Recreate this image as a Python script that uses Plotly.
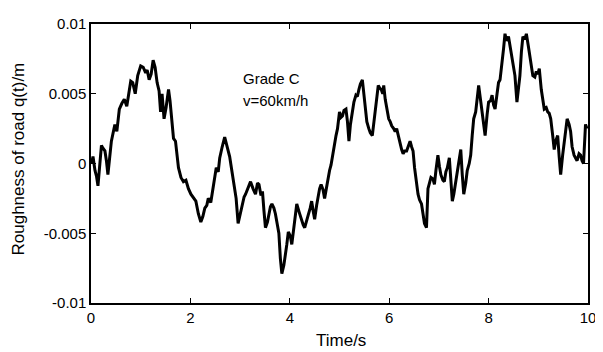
import plotly.graph_objects as go

# Main trace (time in s, roughness in m)
time_s = [0.01, 0.08, 0.14, 0.21, 0.28, 0.34, 0.41, 0.48, 0.57, 0.67, 0.77, 0.84, 0.94, 1.00,
          1.10, 1.17, 1.25, 1.33, 1.40, 1.43, 1.47, 1.56, 1.63, 1.70, 1.76, 1.86, 1.96, 2.06,
          2.16, 2.21, 2.29, 2.36, 2.46, 2.52, 2.59, 2.69, 2.79, 2.85, 2.92, 2.96, 3.05, 3.11,
          3.21, 3.31, 3.38, 3.45, 3.51, 3.58, 3.64, 3.71, 3.78, 3.84, 3.91, 3.97, 4.04, 4.11,
          4.14, 4.24, 4.30, 4.37, 4.44, 4.50, 4.57, 4.63, 4.70, 4.77, 4.83, 4.90, 4.96, 5.00,
          5.06, 5.13, 5.19, 5.26, 5.33, 5.39, 5.46, 5.52, 5.59, 5.66, 5.72, 5.78, 5.84, 5.89,
          5.95, 6.02, 6.09, 6.15, 6.22, 6.28, 6.35, 6.42, 6.48, 6.51, 6.58, 6.65, 6.71, 6.75,
          6.78, 6.84, 6.91, 6.98, 7.04, 7.11, 7.17, 7.21, 7.27, 7.34, 7.41, 7.44, 7.50, 7.57,
          7.64, 7.70, 7.74, 7.80, 7.87, 7.93, 8.00, 8.07, 8.13, 8.20, 8.26, 8.33, 8.40, 8.46,
          8.53, 8.57, 8.63, 8.69, 8.76, 8.83, 8.89, 8.96, 9.02, 9.06, 9.12, 9.19, 9.25, 9.32,
          9.39, 9.45, 9.52, 9.58, 9.65, 9.72, 9.78, 9.85, 9.91, 9.95, 9.98]

roughness_m = [0.0, -0.0005, -0.0016, 0.0013, 0.0009, -0.0008, 0.0016, 0.0028, 0.0039, 0.0046,
               0.0053, 0.0058, 0.0063, 0.0070, 0.0065, 0.0060, 0.0074, 0.0058, 0.0037, 0.0050,
               0.0032, 0.0053, 0.0030, 0.0016, -0.0003, -0.0013, -0.0018, -0.0025, -0.0036, -0.0042,
               -0.0032, -0.0025, -0.0018, -0.0003, 0.0004, 0.0019, 0.0005, -0.0009, -0.0025, -0.0043,
               -0.0029, -0.0022, -0.0013, -0.0022, -0.0015, -0.0020, -0.0046, -0.0036, -0.0029, -0.0036,
               -0.0050, -0.0079, -0.0067, -0.0049, -0.0058, -0.0037,
               -0.0029, -0.0041, -0.0046, -0.0037, -0.0027, -0.0040, -0.0022, -0.0015, -0.0025, -0.0010,
               -0.0001, 0.0016, 0.0025, 0.0037, 0.0034, 0.0039, 0.0016, 0.0037, 0.0049, 0.0053,
               0.0060, 0.0039, 0.0025, 0.0020, 0.0039, 0.0056, 0.0053, 0.0056, 0.0039, 0.0030,
               0.0025, 0.0025, 0.0013, 0.0007, 0.0009, 0.0016, 0.0009, -0.0003, -0.0022, -0.0029,
               -0.0043, -0.0046, -0.0018, -0.0010, -0.0015, 0.0006, -0.0008, -0.0013, -0.0003, 0.0004,
               -0.0027, -0.0013, 0.0006, 0.0010, -0.0022, -0.0005, 0.0006, 0.0032, 0.0037, 0.0056,
               0.0037, 0.0020, 0.0044, 0.0049, 0.0039, 0.0058, 0.0068, 0.0093, 0.0091, 0.0077,
               0.0063, 0.0044, 0.0063, 0.0091, 0.0093, 0.0077, 0.0063, 0.0066, 0.0068, 0.0053,
               0.0039, 0.0037, 0.0032, 0.0010, 0.0020, -0.0008, 0.0016, 0.0032, 0.0023, 0.0006,
               0.0002, 0.0006, 0.0000, 0.0028, 0.0025]

# Extra in-between readings (fine texture of the trace)
detail_time = [0.04, 0.11, 0.24, 0.31, 0.52, 0.62, 0.72, 0.80, 0.89, 0.97, 1.05, 1.13, 1.21, 1.29,
               1.37, 1.51, 1.59, 1.66, 1.73, 1.81, 1.91, 2.01, 2.11, 2.25, 2.33, 2.41, 2.49, 2.56,
               2.64, 2.74, 2.82, 2.89, 3.00, 3.08, 3.16, 3.26, 3.35, 3.42, 3.48, 3.55, 3.61, 3.68,
               3.74, 3.81, 3.88, 3.94, 4.01, 4.08, 4.19, 4.27, 4.34, 4.41, 4.47, 4.54, 4.60, 4.67,
               4.74, 4.80, 4.87, 4.93, 5.03, 5.09, 5.16, 5.22, 5.29, 5.36, 5.42, 5.49, 5.55, 5.62,
               5.69, 5.75, 5.81, 5.87, 5.92, 5.99, 6.05, 6.12, 6.19, 6.25, 6.31, 6.38, 6.45, 6.55,
               6.61, 6.68, 6.81, 6.88, 6.94, 7.01, 7.08, 7.14, 7.24, 7.30, 7.37, 7.47, 7.54, 7.61,
               7.67, 7.77, 7.84, 7.90, 7.97, 8.04, 8.10, 8.17, 8.23, 8.30, 8.36, 8.43, 8.50, 8.60,
               8.66, 8.73, 8.80, 8.86, 8.93, 8.99, 9.09, 9.16, 9.22, 9.29, 9.35, 9.42, 9.49, 9.55,
               9.62, 9.68, 9.75, 9.82, 9.88, 9.93]

detail_values = [0.0005, -0.0009, 0.0011, 0.0002, 0.0023, 0.0043, 0.0041, 0.0059, 0.0050, 0.0066,
                 0.0069, 0.0067, 0.0064, 0.0069, 0.0052, 0.0040, 0.0045, 0.0018, 0.0008, -0.0010,
                 -0.0012, -0.0022, -0.0027, -0.0038, -0.0030, -0.0028, -0.0012, -0.0006, 0.0012, 0.0012,
                 -0.0002, -0.0018, -0.0036, -0.0024, -0.0017, -0.0018, -0.0014, -0.0023, -0.0034, -0.0042,
                 -0.0031, -0.0032, -0.0041, -0.0068, -0.0073, -0.0058, -0.0052, -0.0045, -0.0035, -0.0044,
                 -0.0040, -0.0032, -0.0034, -0.0030, -0.0018, -0.0019, -0.0016, -0.0005, 0.0008, 0.0020,
                 0.0033, 0.0038, 0.0030, 0.0028, 0.0044, 0.0048, 0.0057, 0.0050, 0.0030, 0.0022,
                 0.0030, 0.0050, 0.0054, 0.0050, 0.0046, 0.0032, 0.0027, 0.0023, 0.0018, 0.0010,
                 0.0009, 0.0012, 0.0012, -0.0014, -0.0026, -0.0036, -0.0014, -0.0011, -0.0005, -0.0002,
                 -0.0012, -0.0006, -0.0012, -0.0022, -0.0004, -0.0008, -0.0014, 0.0000, 0.0020, 0.0046,
                 0.0045, 0.0028, 0.0035, 0.0045, 0.0042, 0.0050, 0.0060, 0.0082, 0.0088, 0.0084,
                 0.0070, 0.0052, 0.0080, 0.0089, 0.0084, 0.0068, 0.0062, 0.0064, 0.0046, 0.0040,
                 0.0036, 0.0020, 0.0016, 0.0005, 0.0006, 0.0026, 0.0028, 0.0012, 0.0004, 0.0007,
                 0.0002, 0.0014]

x_ticks = [0, 2, 4, 6, 8, 10]
y_ticks = [-0.01, -0.005, 0, 0.005, 0.01]
y_tick_labels = ["-0.01", "-0.005", "0", "0.005", "0.01"]

pairs = sorted(zip(time_s + detail_time, roughness_m + detail_values))
t_all = [p[0] for p in pairs]
q_all = [p[1] for p in pairs]

FONT = "Liberation Sans, Arial, sans-serif"

fig = go.Figure()
fig.add_trace(go.Scatter(x=t_all, y=q_all, mode="lines",
                         line=dict(color="black", width=3), showlegend=False))

axis_common = dict(showline=True, linecolor="black", linewidth=1.5, mirror="ticks",
                   ticks="inside", ticklen=5, tickwidth=1.2, tickcolor="black",
                   showgrid=False, zeroline=False,
                   tickfont=dict(family=FONT, size=15, color="black"))

fig.update_xaxes(range=[0, 10], tickvals=x_ticks, ticktext=[str(v) for v in x_ticks], **axis_common)
fig.update_yaxes(range=[-0.01, 0.01], tickvals=y_ticks, ticktext=y_tick_labels, **axis_common)

fig.add_annotation(x=3.01, y=0.0061, xref="x", yref="y", text="Grade C", showarrow=False,
                   xanchor="left", yanchor="middle", font=dict(family=FONT, size=15, color="black"))
fig.add_annotation(x=3.01, y=0.0045, xref="x", yref="y", text="v=60km/h", showarrow=False,
                   xanchor="left", yanchor="middle", font=dict(family=FONT, size=15, color="black"))
fig.add_annotation(x=0, y=0.5, xref="paper", yref="paper", text="Roughness of road q(t)/m",
                   textangle=-90, showarrow=False, xshift=-73, yshift=4,
                   xanchor="center", yanchor="middle", font=dict(family=FONT, size=17, color="black"))
fig.add_annotation(x=0.503, y=0, xref="paper", yref="paper", text="Time/s", showarrow=False,
                   yshift=-37, xanchor="center", yanchor="middle",
                   font=dict(family=FONT, size=17, color="black"))

# The page body has an 8px default margin, so the figure is sized to fit inside it.
fig.update_layout(width=595, height=344, margin=dict(l=83, r=7, t=12, b=49),
                  paper_bgcolor="white", plot_bgcolor="white")

fig.write_html("out.html")
